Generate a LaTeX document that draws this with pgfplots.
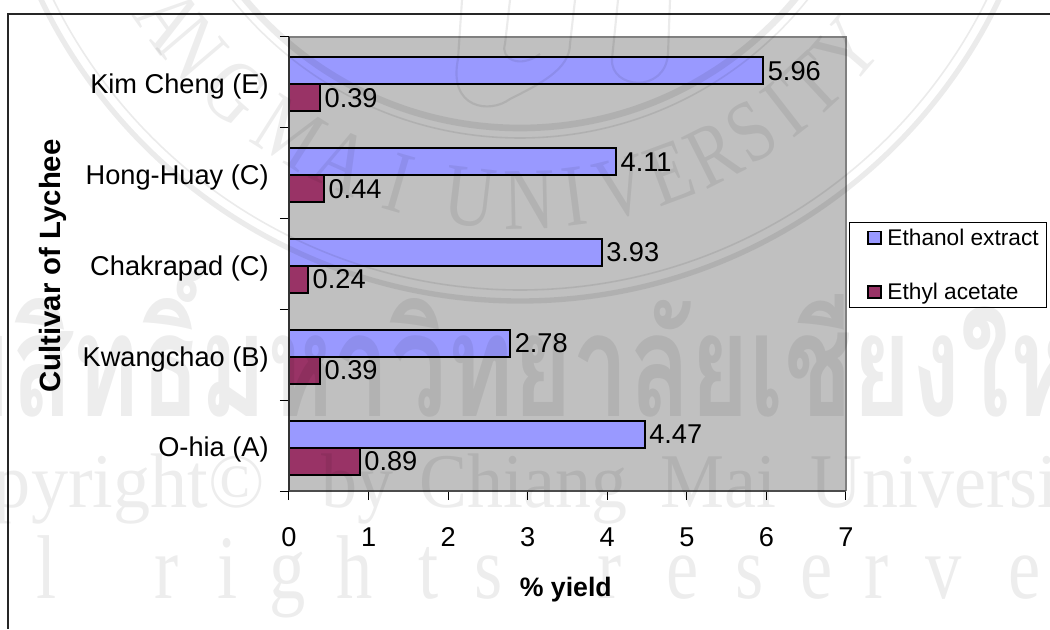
\documentclass[border=0pt]{standalone}
\usepackage{pgfplots}
\pgfplotsset{compat=1.18}
\usepackage{fontspec}
\setmainfont{Liberation Sans}
\newfontfamily\wmserif{Liberation Serif}
\newfontfamily\thaifont[Script=Thai]{Loma}
\newcommand{\fs}[1]{\fontsize{#1}{#1}\selectfont}
\definecolor{plotbg}{HTML}{C0C0C0}
\definecolor{ethanol}{HTML}{9999FF}
\definecolor{acetate}{HTML}{993366}
\definecolor{rimgray}{HTML}{808080}
\pgfplotstableread{
pos ethanol acetate
0 4.47 0.89
1 2.78 0.39
2 3.93 0.24
3 4.11 0.44
4 5.96 0.39
}\yieldtable
\begin{document}
\begin{tikzpicture}[x=0.75pt,y=0.75pt]
\path[use as bounding box] (0,0) rectangle (1050,629);
\begin{scope}
\clip (0,0) rectangle (1050,629);
% outer chart frame
\draw[line width=0.9pt,black!85] (1050,615) -- (8,615) -- (8,0);
\begin{axis}[
  at={(216.75pt,103.5pt)}, anchor=south west,
  scale only axis,
  width=417.75pt, height=340.5pt,
  xmin=0, xmax=7, ymin=-0.5, ymax=4.5,
  axis background/.style={fill=plotbg},
  axis line style={draw=none},
  tick align=outside,
  xtick pos=bottom, ytick pos=left,
  major tick length=6.75pt,
  tick style={black,line width=0.75pt},
  xtick={0,1,2,3,4,5,6,7},
  ytick={-0.5,0.5,1.5,2.5,3.5,4.5},
  yticklabels={},
  extra y ticks={0,1,2,3,4},
  extra y tick labels={O-hia (A),Kwangchao (B),Chakrapad (C),Hong-Huay (C),Kim Cheng (E)},
  extra y tick style={major tick length=0pt,
    yticklabel style={xshift=-11.75pt,yshift=-3.2pt}},
  xticklabel style={yshift=-16pt,text height=15pt,text depth=0pt},
  ticklabel style={font=\fs{20.4}},
  /pgf/number format/assume math mode=true,
  xlabel={\% yield},
  ylabel={Cultivar of Lychee},
  xlabel style={font=\fs{20}\bfseries,at={(axis description cs:0.497,-0.218)},anchor=center},
  ylabel style={font=\fs{22}\bfseries,at={(axis description cs:-0.423,0.4956)},anchor=center},
  xbar, bar width=20.25pt,
  nodes near coords={\pgfmathprintnumber[fixed,fixed zerofill,precision=2,assume math mode=true]{\pgfplotspointmeta}},
  nodes near coords align={horizontal},
  every node near coord/.append style={font=\fs{20.4},black,anchor=west,xshift=0.75pt,inner xsep=2pt},
  legend cell align=left,
  legend image code/.code={\draw[#1,line width=1.3pt] (10pt,-4.7pt) rectangle (19.5pt,4.7pt); \path[draw=none,fill=none] (0pt,0pt) -- (22.5pt,0pt);},
  legend style={at={(1.0054,0.593)},anchor=north west,draw=black,line width=0.75pt,
    fill=white,font=\fs{17},inner xsep=4pt,inner ysep=2.75pt,row sep=22.75pt,
    /tikz/every even column/.append style={column sep=0pt}},
]
\addplot[draw=black,line width=1.4pt,fill=ethanol,bar shift=8.6pt] table[x=ethanol,y=pos] {\yieldtable};
\addplot[draw=black,line width=1.4pt,fill=acetate,bar shift=-11.6pt] table[x=acetate,y=pos] {\yieldtable};
\legend{Ethanol extract,Ethyl acetate}
\end{axis}
% plot area rim
\draw[rimgray,line width=1.4pt] (289,592) -- (846,592) -- (846,138);
\draw[black!80,line width=1.1pt] (289,592) -- (289,138);
\draw[black!70,line width=1.2pt] (289,138) -- (846,138);
% university seal and copyright notice
\begin{scope}[black,opacity=0.08]
  \draw[line width=5pt] (520,859) circle[radius=358];
  \draw[line width=1.2pt] (520,859) circle[radius=368];
  \draw[line width=4pt] (520,859) circle[radius=531];
  \draw[line width=1.2pt] (520,859) circle[radius=520];
  \draw[line width=1.6pt] (462,629) -- (458,570) .. controls (448,520) and (490,515) .. (510,530)
     .. controls (540,545) and (570,560) .. (570,585) -- (575,629);
  \draw[line width=1.6pt] (510,629) -- (505,585) .. controls (500,570) and (520,560) .. (540,575);
  \draw[line width=1.6pt] (670,629) -- (668,575) .. controls (665,535) and (610,540) .. (612,570) -- (618,629);
\end{scope}
\begin{scope}[black,opacity=0.07]
  \foreach \ch/\ang in {A/-54.6,N/-49.6,G/-41.6,M/-32.4,A/-24.3,I/-16.3,U/-6.7,N/1.2,I/7.3,V/13.6,E/20.4,R/26.8,S/32.6,I/37.9,T/42.9,Y/49.3}
    \node[rotate=\ang,xscale=0.8,inner sep=0pt,font=\wmserif\fs{66}] at ({520+430*sin(\ang)},{859-430*cos(\ang)}) {\ch};
  \node[anchor=base east,xscale=0.96,inner sep=0pt,font=\wmserif\fs{58}] at (265,122) {Copyright©};
  \foreach \word/\xx in {by/321,Chiang/419,Mai/660,University/810}
    \node[anchor=base west,xscale=0.93,inner sep=0pt,font=\wmserif\fs{58}] at (\xx,122) {\word};
  \foreach \ch/\xx in {l/47,r/167,i/228,g/288,h/355,t/429,s/489,r/610,e/683,s/750,e/817,r/877,v/944,e/1025}
    \node[anchor=base,xscale=0.8,inner sep=0pt,font=\wmserif\fs{68}] at (\xx,31) {\ch};
  \node[anchor=base,xscale=0.7,inner sep=0pt,font=\thaifont\bfseries\fs{108}] at (512,212) {ลิขสิทธิ์มหาวิทยาลัยเชียงใหม่};
\end{scope}
\end{scope}
\end{tikzpicture}
\end{document}
